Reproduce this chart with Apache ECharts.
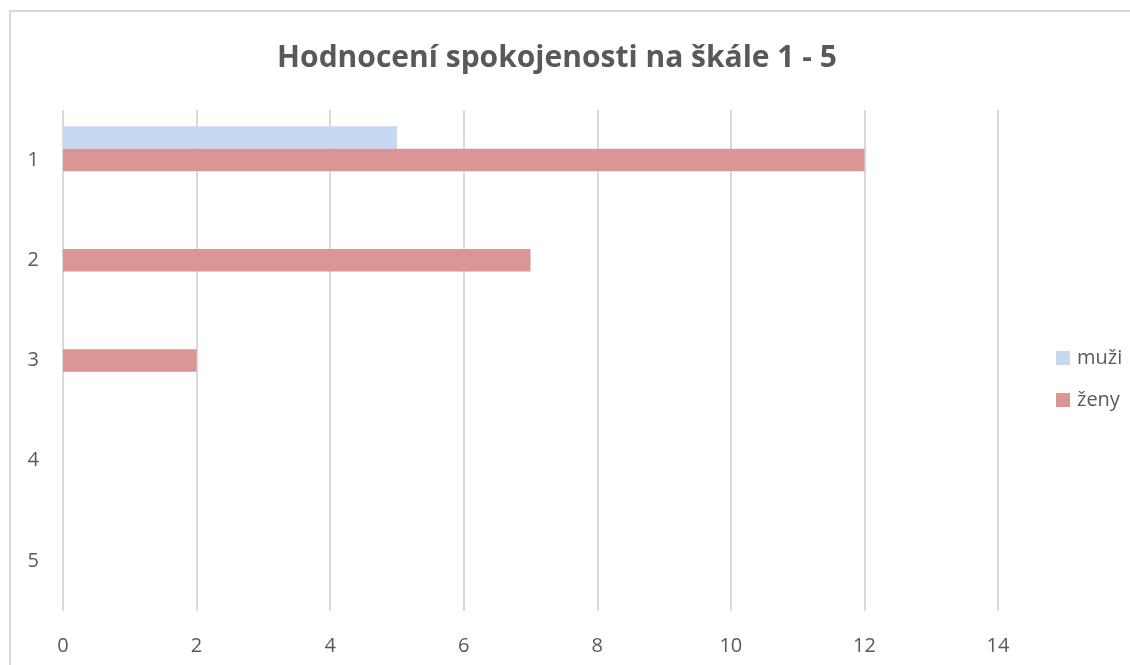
<!DOCTYPE html>
<html>
<head>
<meta charset="utf-8">
<script src="https://cdn.jsdelivr.net/npm/echarts@6/dist/echarts.min.js"></script>
<style>
  html, body { margin: 0; padding: 0; background: #fff; }
  #main { width: 1130px; height: 665px; }
</style>
</head>
<body>
<div id="main"></div>
<script>
var myChart = echarts.init(document.getElementById('main'));

// hodnoty ze škály 1 - 5
var categories = ['1', '2', '3', '4', '5'];
var muzi = [5, 0, 0, 0, 0];
var zeny = [12, 7, 2, 0, 0];
// třetí (prázdná) řada, posouvá dvojici sloupců nahoru
var prazdna = [null, null, null, null, null];
var xTicks = { min: 0, max: 14, interval: 2 };

var textColor = '#595959';
var fontFamily = '"Open Sans", "Noto Sans", sans-serif';

var option = {
    backgroundColor: '#fff',
    textStyle: { fontFamily: fontFamily },
    title: {
        text: 'Hodnocení spokojenosti na škále 1 - 5',
        left: 552,
        textAlign: 'center',
        top: 38,
        textStyle: {
            color: textColor,
            fontSize: 30,
            fontWeight: 'bold',
            fontFamily: fontFamily
        }
    },
    graphic: [{
        type: 'rect',
        shape: { x: 10, y: 11, width: 1300, height: 800 },
        style: { fill: 'none', stroke: '#d9d9d9', lineWidth: 2 },
        silent: true
    }],
    legend: {
        orient: 'vertical',
        left: 1051,
        top: 343,
        itemWidth: 14,
        itemHeight: 14,
        itemGap: 22,
        icon: 'rect',
        data: ['muži', 'ženy'],
        textStyle: { color: textColor, fontSize: 20, fontFamily: fontFamily, padding: [0, 0, 0, 2] }
    },
    grid: {
        left: 63,
        right: 132,
        top: 110,
        bottom: 54,
        containLabel: false
    },
    xAxis: {
        type: 'value',
        min: xTicks.min,
        max: xTicks.max,
        interval: xTicks.interval,
        axisLine: { show: false },
        axisTick: { show: false },
        axisLabel: { color: textColor, fontSize: 20, margin: 25 },
        splitLine: { lineStyle: { color: '#d9d9d9', width: 2 } }
    },
    yAxis: {
        type: 'category',
        inverse: true,
        data: categories,
        axisLine: { show: false },
        axisTick: { show: false },
        axisLabel: { color: textColor, fontSize: 20, margin: 24 },
        splitLine: { show: false }
    },
    series: [
        {
            name: 'muži',
            type: 'bar',
            data: muzi,
            barWidth: 22.5,
            barGap: '0%',
            itemStyle: { color: '#c6d9f0' }
        },
        {
            name: 'ženy',
            type: 'bar',
            data: zeny,
            barWidth: 22.5,
            barGap: '0%',
            itemStyle: { color: '#da9694' }
        },
        {
            name: 'prázdná',
            type: 'bar',
            data: prazdna,
            barWidth: 22.5,
            barGap: '0%',
            itemStyle: { color: '#cccccc' }
        }
    ]
};

myChart.setOption(option);
</script>
</body>
</html>
